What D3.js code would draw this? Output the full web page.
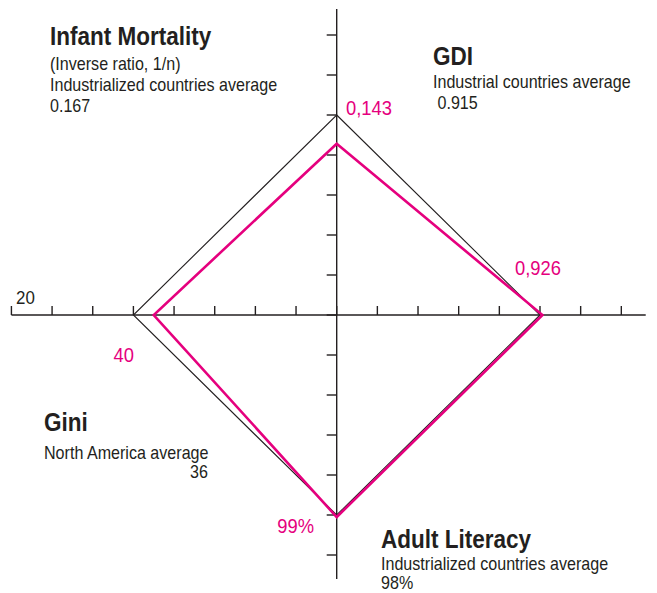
<!DOCTYPE html>
<html><head><meta charset="utf-8">
<script src="https://cdn.jsdelivr.net/npm/d3@7"></script>
<style>body{margin:0;background:#fff}svg{display:block}</style>
</head><body>
<script>
// ---- data ----
const indicators = ["Infant Mortality", "GDI", "Adult Literacy", "Gini"];
const directions = ["up", "right", "down", "left"];
const averages = [0.167, 0.915, 98, 36];
const countryValues = [0.143, 0.926, 99, 40];
const inverse = [false, false, false, true];
const valueLabels = ["0,143", "0,926", "99%", "40"];
const subtitles = [
  ["(Inverse ratio, 1/n)", "Industrialized countries average", "0.167"],
  ["Industrial countries average", " 0.915"],
  ["Industrialized countries average", "98%"],
  ["North America average", "36"]
];
const hTicks = d3.range(-1.6, 1.41, 0.2);
const vTicks = d3.range(-1.2, 1.41, 0.2);
const endLabel = "20";

const W = 657, H = 593;
const cx = 336.7, cy = 315;
const x = d3.scaleLinear().domain([-1, 1]).range([cx - 203.3, cx + 203.3]);
const y = d3.scaleLinear().domain([-1, 1]).range([cy + 200, cy - 200]);

const svg = d3.select("body").append("svg").attr("width", W).attr("height", H);
const font = "'Liberation Sans',Arial,Helvetica,sans-serif";
const pink = "#e5007e", ink = "#231f20";

// axes
svg.append("line").attr("x1", x(-1.6)).attr("x2", x(1.52)).attr("y1", cy).attr("y2", cy)
  .attr("stroke", ink).attr("stroke-width", 1.4);
svg.append("line").attr("x1", cx).attr("x2", cx).attr("y1", y(1.53)).attr("y2", y(-1.32))
  .attr("stroke", ink).attr("stroke-width", 1.4);
svg.append("g").selectAll("line").data(hTicks).join("line")
  .attr("x1", d => x(d)).attr("x2", d => x(d)).attr("y1", cy).attr("y2", cy - 9)
  .attr("stroke", ink).attr("stroke-width", 1.4);
svg.append("g").selectAll("line").data(vTicks).join("line")
  .attr("x1", cx).attr("x2", cx - 10).attr("y1", d => y(d)).attr("y2", d => y(d))
  .attr("stroke", ink).attr("stroke-width", 1.4);

function pt(ratio, dir) {
  if (dir === "up") return [cx, y(ratio)];
  if (dir === "down") return [cx, y(-ratio)];
  if (dir === "right") return [x(ratio), cy];
  return [x(-ratio), cy];
}
const avgPts = directions.map(d => pt(1, d));
const ctryPts = directions.map((d, i) => {
  const r = inverse[i] ? averages[i] / countryValues[i] : countryValues[i] / averages[i];
  return pt(r, d);
});
const line = d3.line().curve(d3.curveLinearClosed);
svg.append("path").attr("d", line(avgPts)).attr("fill", "none").attr("stroke", ink).attr("stroke-width", 1.1);
svg.append("path").attr("d", line(ctryPts)).attr("fill", "none").attr("stroke", pink).attr("stroke-width", 2.6)
  .attr("stroke-linejoin", "miter");

function label(px, py, txt, size, sx, opts = {}) {
  return svg.append("text")
    .attr("transform", `translate(${px},${py}) scale(${sx},1)`)
    .attr("text-anchor", opts.anchor || "start")
    .attr("font-family", font).attr("font-size", size)
    .attr("font-weight", opts.bold ? "bold" : "normal")
    .attr("fill", opts.fill || ink)
    .style("white-space", "pre")
    .text(txt);
}

// titles
const titlePos = [[50, 45], [433, 65], [381, 548], [44, 431]];
const subPos = [
  [[50, 70], [50, 91], [50, 112]],
  [[433, 88], [433, 109]],
  [[381, 570], [381, 589]],
  [[44, 459], [208, 478, "end"]]
];
indicators.forEach((t, i) => {
  label(titlePos[i][0], titlePos[i][1], t, 25, 0.9, { bold: true });
  subtitles[i].forEach((s, j) => {
    const p = subPos[i][j];
    label(p[0], p[1], s, 17.5, 0.92, { anchor: p[2] });
  });
});
// value labels
const valPos = [[346, 115, "start"], [515, 275, "start"], [314, 533, "end"], [134, 362, "end"]];
valueLabels.forEach((v, i) => {
  label(valPos[i][0], valPos[i][1], v, 20, 0.92, { anchor: valPos[i][2], fill: pink });
});
label(16, 304, endLabel, 18, 0.94);
</script>
</body></html>
